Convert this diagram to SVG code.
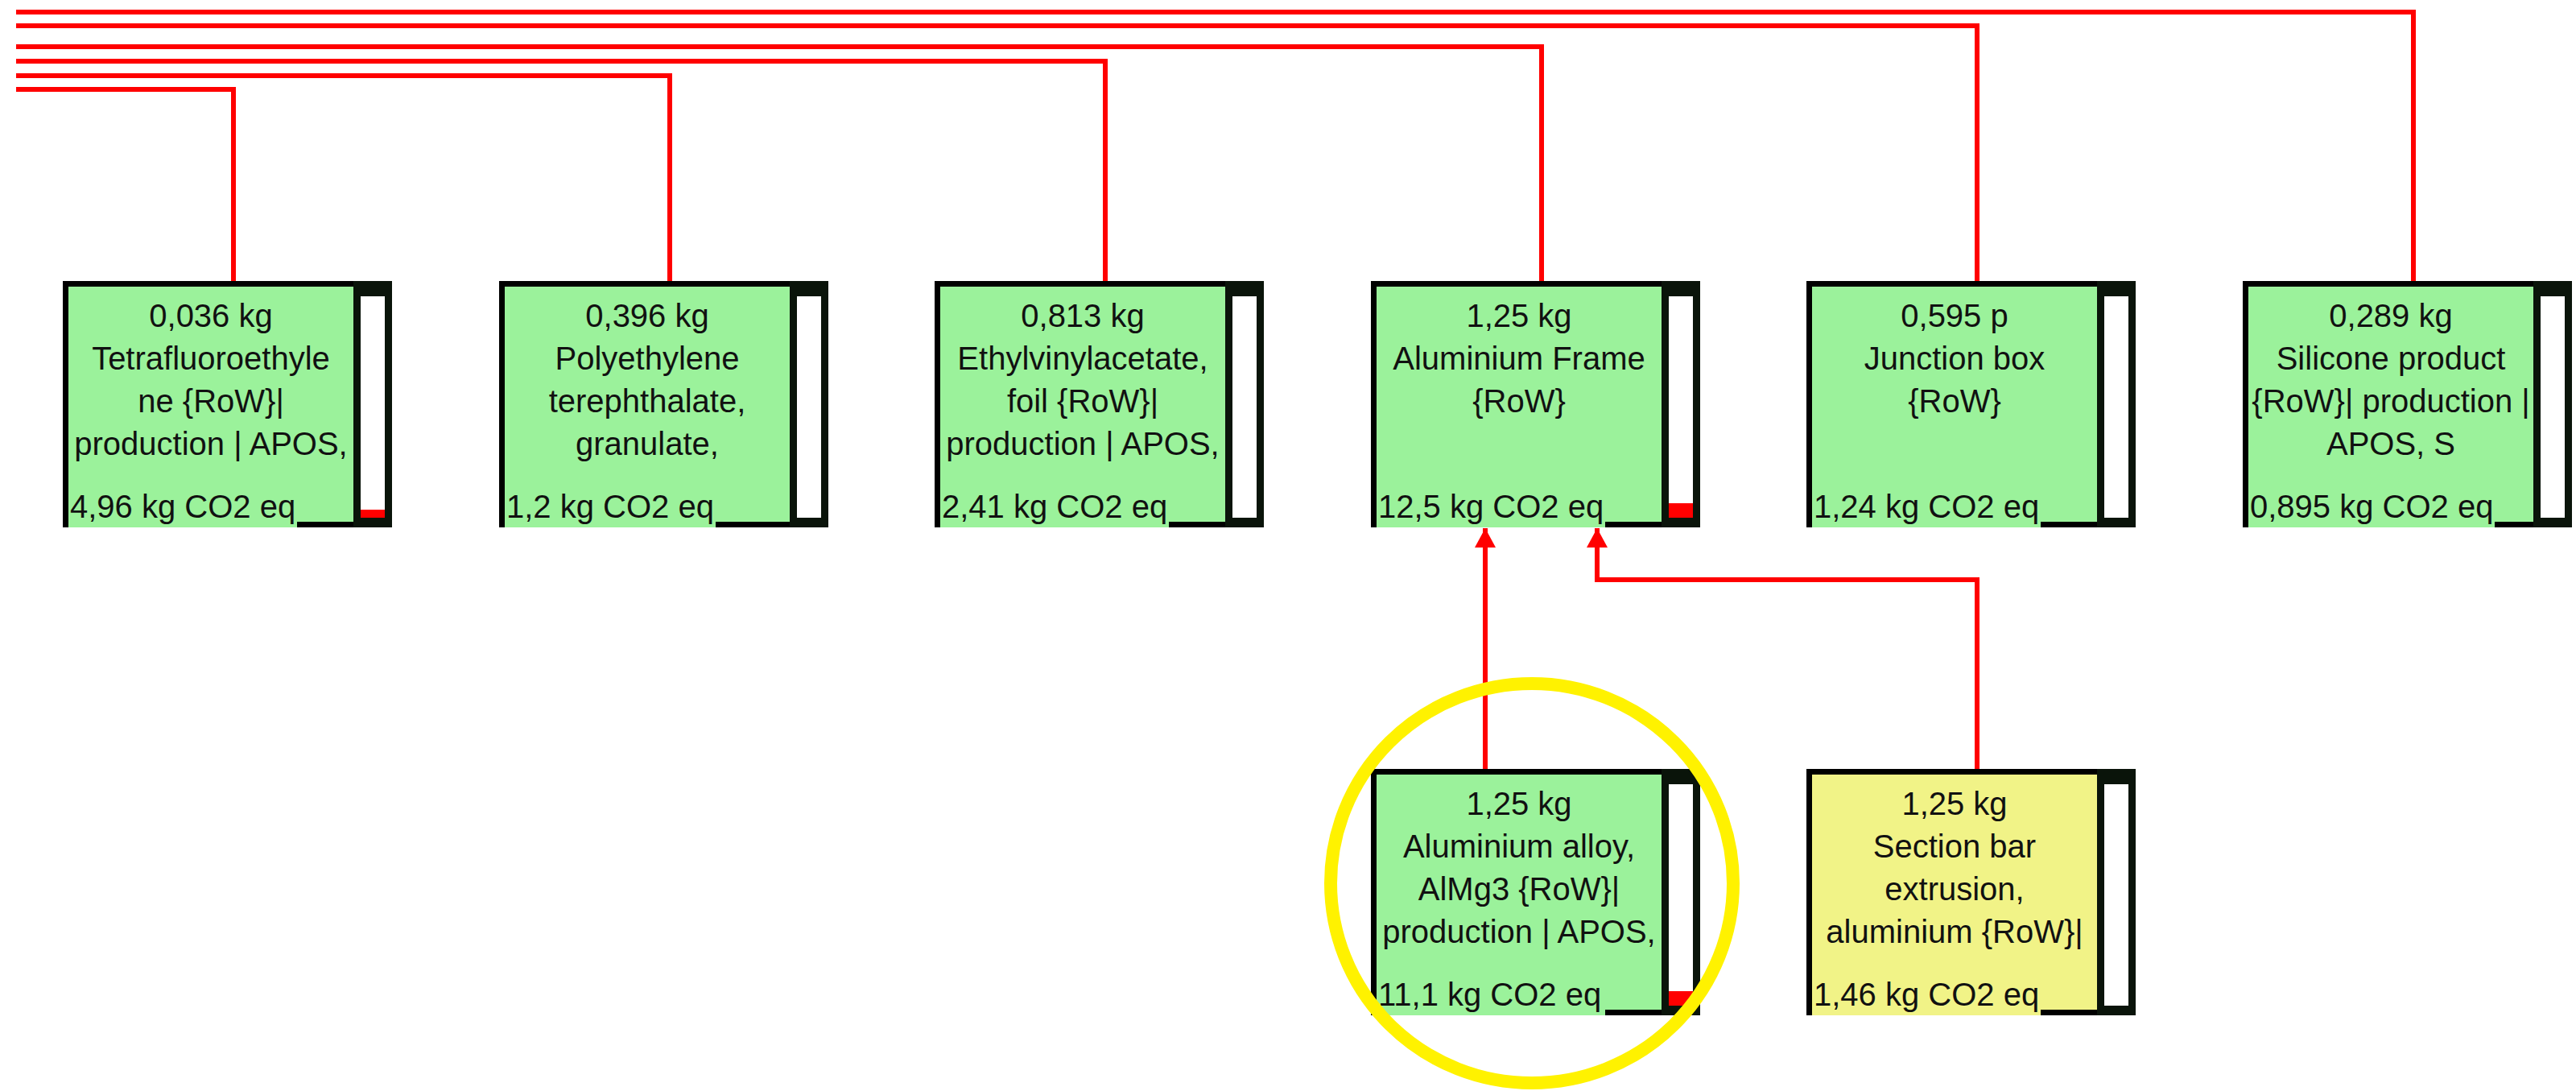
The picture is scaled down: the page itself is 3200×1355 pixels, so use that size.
<svg xmlns="http://www.w3.org/2000/svg" width="3200" height="1355" viewBox="0 0 3200 1355">
<style>
.box{fill:#9bf29b;stroke:#000;stroke-width:7}
.ybox{fill:#f1f387;stroke:#000;stroke-width:7}
.col{fill:#0a140a}
.bar{fill:#fff}
.lvl{fill:#ff0000}
.lbl{fill:#9bf29b}
.ylbl{fill:#f1f387}
.t{font-family:"Liberation Sans",Arial,sans-serif;font-size:40px;fill:#111;text-anchor:middle}
.b{font-family:"Liberation Sans",Arial,sans-serif;font-size:40px;fill:#111}
.conn{fill:none;stroke:#ff0000;stroke-width:6}
</style>
<defs>
<marker id="arr" markerUnits="userSpaceOnUse" markerWidth="26" markerHeight="26" viewBox="0 0 24 26" refX="24" refY="13" orient="auto">
<path d="M0,0 L24,13 L0,26 z" fill="#ff0000"/>
</marker>
</defs>
<rect width="3200" height="1355" fill="#fff"/>
<g id="connectors">
<path class="conn" d="M20,111 H290 V349"/>
<path class="conn" d="M20,94 H832 V349"/>
<path class="conn" d="M20,76 H1373 V349"/>
<path class="conn" d="M20,58 H1915 V349"/>
<path class="conn" d="M20,32 H2456 V349"/>
<path class="conn" d="M20,15 H2998 V349"/>
<path class="conn" d="M1845,955 V656" marker-end="url(#arr)"/>
<path class="conn" d="M2456,955 V720 H1984 V656" marker-end="url(#arr)"/>
</g>
<g id="n-tetrafluoroethylene" transform="translate(78,349)">
<rect class="box" x="3.5" y="3.5" width="402" height="299"/>
<rect class="col" x="361" y="0" width="48" height="306"/>
<rect class="bar" x="370" y="19" width="30" height="275"/>
<rect class="lvl" x="370" y="284" width="30" height="10"/>
<rect class="lbl" x="7" y="262" width="284" height="44"/>
<text class="t" x="184" y="57">0,036 kg</text>
<text class="t" x="184" y="110">Tetrafluoroethyle</text>
<text class="t" x="184" y="163">ne {RoW}|</text>
<text class="t" x="184" y="216">production | APOS,</text>
<text class="b" x="9" y="294">4,96 kg CO2 eq</text>
</g>
<g id="n-pet" transform="translate(620,349)">
<rect class="box" x="3.5" y="3.5" width="402" height="299"/>
<rect class="col" x="361" y="0" width="48" height="306"/>
<rect class="bar" x="370" y="19" width="30" height="275"/>
<rect class="lbl" x="7" y="262" width="262" height="44"/>
<text class="t" x="184" y="57">0,396 kg</text>
<text class="t" x="184" y="110">Polyethylene</text>
<text class="t" x="184" y="163">terephthalate,</text>
<text class="t" x="184" y="216">granulate,</text>
<text class="b" x="9" y="294">1,2 kg CO2 eq</text>
</g>
<g id="n-eva" transform="translate(1161,349)">
<rect class="box" x="3.5" y="3.5" width="402" height="299"/>
<rect class="col" x="361" y="0" width="48" height="306"/>
<rect class="bar" x="370" y="19" width="30" height="275"/>
<rect class="lbl" x="7" y="262" width="284" height="44"/>
<text class="t" x="184" y="57">0,813 kg</text>
<text class="t" x="184" y="110">Ethylvinylacetate,</text>
<text class="t" x="184" y="163">foil {RoW}|</text>
<text class="t" x="184" y="216">production | APOS,</text>
<text class="b" x="9" y="294">2,41 kg CO2 eq</text>
</g>
<g id="n-aluminium-frame" transform="translate(1703,349)">
<rect class="box" x="3.5" y="3.5" width="402" height="299"/>
<rect class="col" x="361" y="0" width="48" height="306"/>
<rect class="bar" x="370" y="19" width="30" height="275"/>
<rect class="lvl" x="370" y="276" width="30" height="18"/>
<rect class="lbl" x="7" y="262" width="284" height="44"/>
<text class="t" x="184" y="57">1,25 kg</text>
<text class="t" x="184" y="110">Aluminium Frame</text>
<text class="t" x="184" y="163">{RoW}</text>
<text class="b" x="9" y="294">12,5 kg CO2 eq</text>
</g>
<g id="n-junction-box" transform="translate(2244,349)">
<rect class="box" x="3.5" y="3.5" width="402" height="299"/>
<rect class="col" x="361" y="0" width="48" height="306"/>
<rect class="bar" x="370" y="19" width="30" height="275"/>
<rect class="lbl" x="7" y="262" width="284" height="44"/>
<text class="t" x="184" y="57">0,595 p</text>
<text class="t" x="184" y="110">Junction box</text>
<text class="t" x="184" y="163">{RoW}</text>
<text class="b" x="9" y="294">1,24 kg CO2 eq</text>
</g>
<g id="n-silicone" transform="translate(2786,349)">
<rect class="box" x="3.5" y="3.5" width="402" height="299"/>
<rect class="lbl" x="7" y="262" width="306" height="44"/>
<text class="t" x="184" y="57">0,289 kg</text>
<text class="t" x="184" y="110">Silicone product</text>
<text class="t" x="184" y="163">{RoW}| production |</text>
<text class="t" x="184" y="216">APOS, S</text>
<text class="b" x="9" y="294">0,895 kg CO2 eq</text>
<rect class="col" x="361" y="0" width="48" height="306"/>
<rect class="bar" x="370" y="19" width="30" height="275"/>
</g>
<g id="n-aluminium-alloy" transform="translate(1703,955)">
<rect class="box" x="3.5" y="3.5" width="402" height="299"/>
<rect class="col" x="361" y="0" width="48" height="306"/>
<rect class="bar" x="370" y="19" width="30" height="275"/>
<rect class="lvl" x="370" y="276" width="30" height="18"/>
<rect class="lbl" x="7" y="262" width="284" height="44"/>
<text class="t" x="184" y="57">1,25 kg</text>
<text class="t" x="184" y="110">Aluminium alloy,</text>
<text class="t" x="184" y="163">AlMg3 {RoW}|</text>
<text class="t" x="184" y="216">production | APOS,</text>
<text class="b" x="9" y="294">11,1 kg CO2 eq</text>
</g>
<g id="n-section-bar" transform="translate(2244,955)">
<rect class="ybox" x="3.5" y="3.5" width="402" height="299"/>
<rect class="col" x="361" y="0" width="48" height="306"/>
<rect class="bar" x="370" y="19" width="30" height="275"/>
<rect class="ylbl" x="7" y="262" width="284" height="44"/>
<text class="t" x="184" y="57">1,25 kg</text>
<text class="t" x="184" y="110">Section bar</text>
<text class="t" x="184" y="163">extrusion,</text>
<text class="t" x="184" y="216">aluminium {RoW}|</text>
<text class="b" x="9" y="294">1,46 kg CO2 eq</text>
</g>
<g id="highlight">
<ellipse cx="1903" cy="1097" rx="250" ry="248" fill="none" stroke="#fff200" stroke-width="16"/>
</g>
</svg>
